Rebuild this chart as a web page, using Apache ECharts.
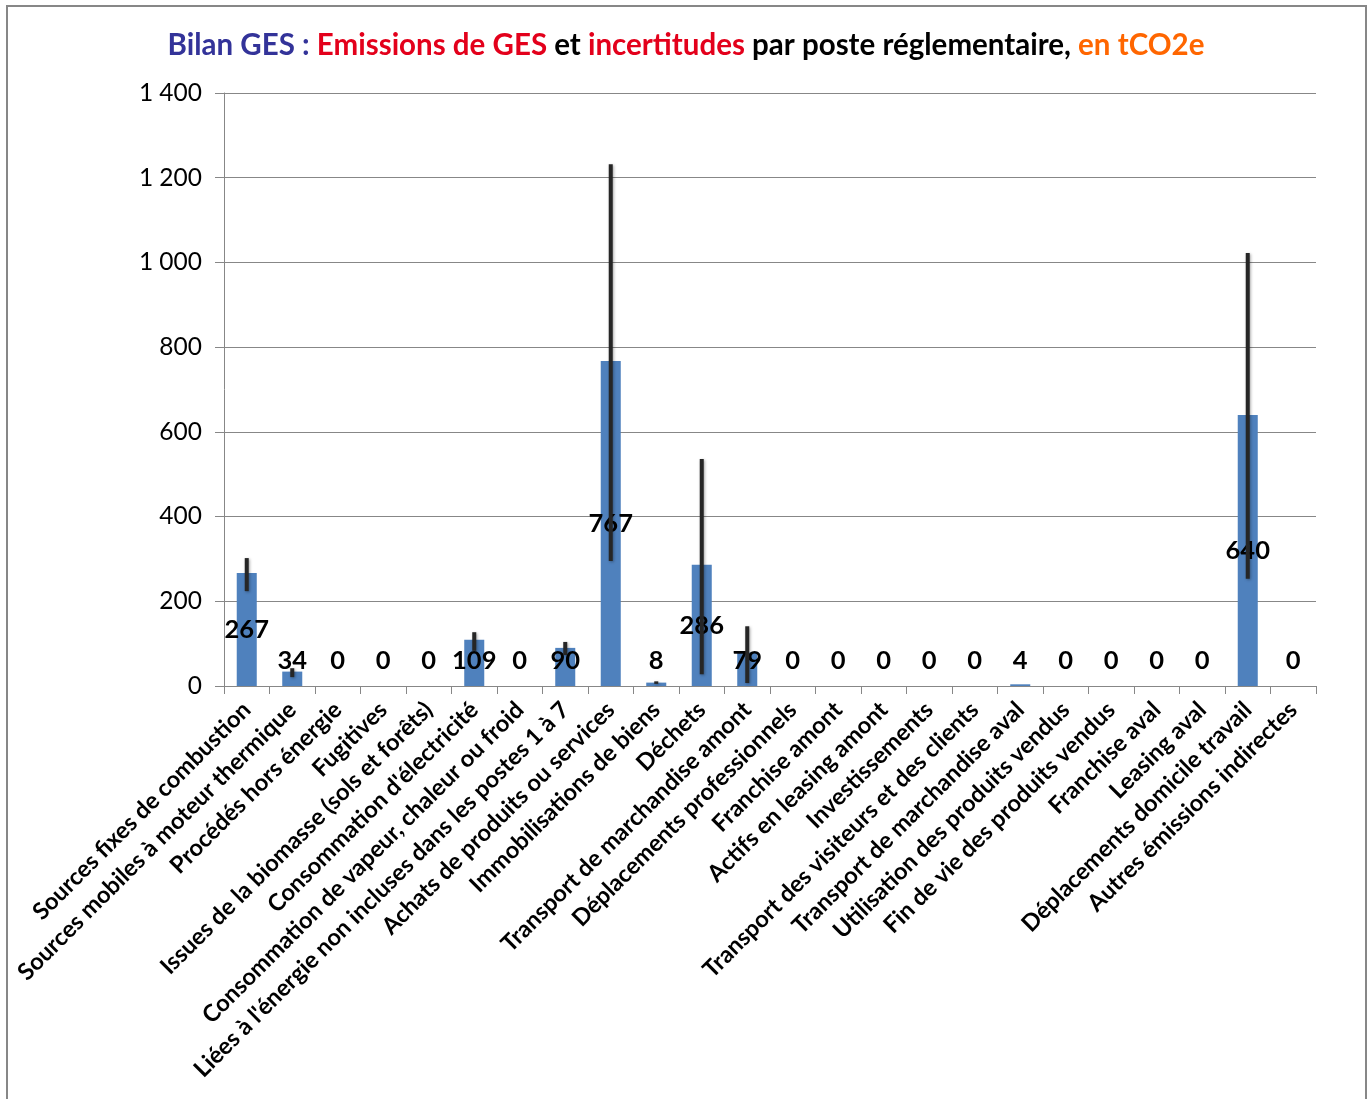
<!DOCTYPE html>
<html><head><meta charset="utf-8">
<script src="https://cdn.jsdelivr.net/npm/echarts@6/dist/echarts.min.js"></script>
<style>html,body{margin:0;padding:0;background:#fff}#c{width:1372px;height:1099px}</style>
</head><body><div id="c"></div>
<script>
const categories = [
  "Sources fixes de combustion",
  "Sources mobiles à moteur thermique",
  "Procédés hors énergie",
  "Fugitives",
  "Issues de la biomasse (sols et forêts)",
  "Consommation d'électricité",
  "Consommation de vapeur, chaleur ou froid",
  "Liées à l'énergie non incluses dans les postes 1 à 7",
  "Achats de produits ou services",
  "Immobilisations de biens",
  "Déchets",
  "Transport de marchandise amont",
  "Déplacements professionnels",
  "Franchise amont",
  "Actifs en leasing amont",
  "Investissements",
  "Transport des visiteurs et des clients",
  "Transport de marchandise aval",
  "Utilisation des produits vendus",
  "Fin de vie des produits vendus",
  "Franchise aval",
  "Leasing aval",
  "Déplacements domicile travail",
  "Autres émissions indirectes"
];
const emissions = [267, 34, 0, 0, 0, 109, 0, 90, 767, 8, 286, 79, 0, 0, 0, 0, 0, 4, 0, 0, 0, 0, 640, 0];
const errLow  = [224, 21, 0, 0, 0, 83, 0, 73, 295, 5, 28, 7, 0, 0, 0, 0, 0, 4, 0, 0, 0, 0, 253, 0];
const errHigh = [302, 42, 0, 0, 0, 127, 0, 104, 1232, 11, 536, 141, 0, 0, 0, 0, 0, 4, 0, 0, 0, 0, 1022, 0];
const yTicks = [0, 200, 400, 600, 800, 1000, 1200, 1400];

const FONT = 'Lato';
const TS = 29.5;
const chart = echarts.init(document.getElementById('c'), null, {renderer: 'canvas'});

const barData = emissions.map(v => {
  if (v < 118) {
    return {value: v, label: {position: 'insideBottom', distance: 12}};
  }
  return {value: v};
});

const errData = emissions.map((v, i) => [i, errLow[i], errHigh[i]]);

chart.setOption({
  animation: false,
  backgroundColor: '#fff',
  graphic: [{
    type: 'rect', shape: {x: 7, y: 6, width: 1359, height: 1200},
    style: {fill: 'none', stroke: '#878787', lineWidth: 2}, z: 100, silent: true
  }],
  title: {
    left: 'center', top: 25,
    text: '{b|Bilan GES : }{r|Emissions de GES}{k| et }{r|incertitudes}{k| par poste réglementaire, }{o|en tCO2e}',
    textStyle: {
      fontFamily: FONT, fontSize: TS, fontWeight: 'bold',
      rich: {
        b: {color: '#333399', fontFamily: FONT, fontSize: TS, fontWeight: 'bold'},
        r: {color: '#E3001B', fontFamily: FONT, fontSize: TS, fontWeight: 'bold'},
        k: {color: '#000000', fontFamily: FONT, fontSize: TS, fontWeight: 'bold'},
        o: {color: '#FF6600', fontFamily: FONT, fontSize: TS, fontWeight: 'bold'}
      }
    }
  },
  grid: {left: 224, right: 56, top: 93, bottom: 413, containLabel: false},
  xAxis: {
    type: 'category', data: categories,
    axisLine: {lineStyle: {color: '#878787', width: 1}},
    axisTick: {show: true, alignWithLabel: false, length: 8, lineStyle: {color: '#878787'}},
    axisLabel: {
      interval: 0, rotate: 45, margin: 20,
      fontFamily: FONT, fontSize: 23.5, fontWeight: 'bold', color: '#000'
    }
  },
  yAxis: {
    type: 'value', min: 0, max: 1400, interval: 200,
    axisLine: {show: true, lineStyle: {color: '#878787'}},
    axisTick: {show: true, length: 9, inside: false, lineStyle: {color: '#878787'}},
    splitLine: {lineStyle: {color: '#878787', width: 1}},
    axisLabel: {
      fontFamily: FONT, fontSize: 24.5, color: '#000', margin: 22,
      formatter: v => yTicks.includes(v) ? String(v).replace(/\B(?=(\d{3})+(?!\d))/g, ' ') : ''
    }
  },
  series: [
    {
      type: 'bar', data: barData, barWidth: '44%',
      itemStyle: {color: '#4F81BD'},
      label: {
        show: true, position: 'inside',
        fontFamily: FONT, fontSize: 25.5, fontWeight: 'bold', color: '#000'
      },
      z: 2
    },
    {
      type: 'custom', data: errData, z: 3,
      renderItem: (params, api) => {
        const i = api.value(0);
        const lo = api.coord([i, api.value(1)]);
        const hi = api.coord([i, api.value(2)]);
        if (Math.abs(lo[1] - hi[1]) < 0.5) return null;
        return {
          type: 'line',
          shape: {x1: lo[0], y1: lo[1], x2: hi[0], y2: hi[1]},
          style: {stroke: '#262626', lineWidth: 4, shadowBlur: 3, shadowColor: 'rgba(0,0,0,0.35)', shadowOffsetX: 1, shadowOffsetY: 1}
        };
      }
    }
  ]
});
</script></body></html>
